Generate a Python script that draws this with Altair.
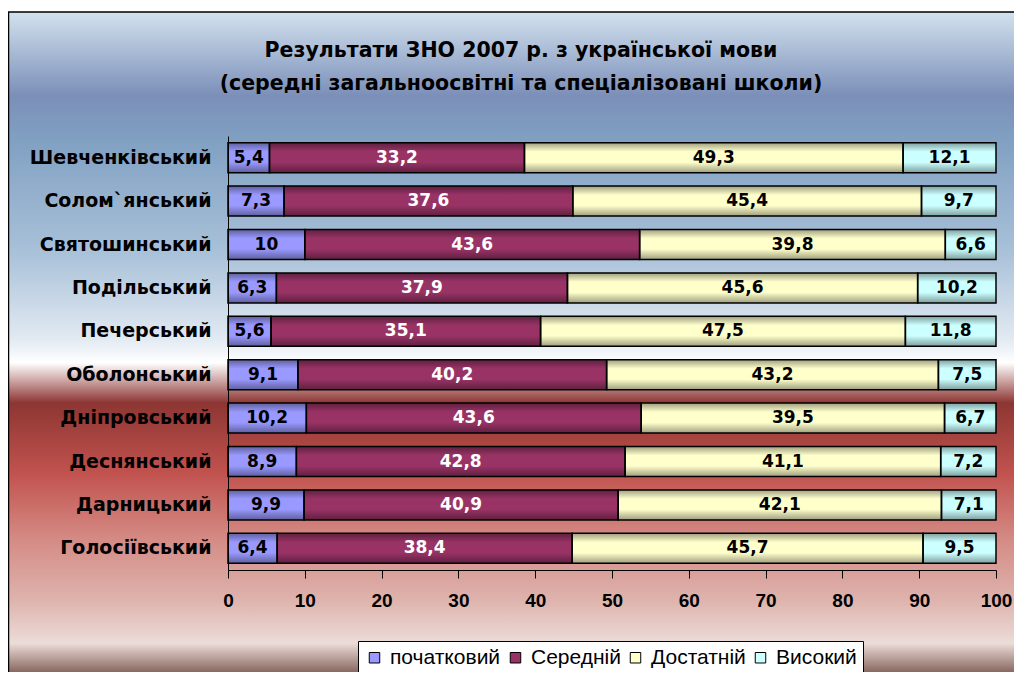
import altair as alt
import pandas as pd

districts = ["Шевченківський", "Солом`янський", "Святошинський", "Подільський",
             "Печерський", "Оболонський", "Дніпровський", "Деснянський",
             "Дарницький", "Голосіївський"]
levels = ["початковий", "Середній", "Достатній", "Високий"]
level_colors = ["#9999ff", "#993366", "#ffffcc", "#ccffff"]

pochatkovyi = [5.4, 7.3, 10.0, 6.3, 5.6, 9.1, 10.2, 8.9, 9.9, 6.4]
serednii = [33.2, 37.6, 43.6, 37.9, 35.1, 40.2, 43.6, 42.8, 40.9, 38.4]
dostatnii = [49.3, 45.4, 39.8, 45.6, 47.5, 43.2, 39.5, 41.1, 42.1, 45.7]
vysokyi = [12.1, 9.7, 6.6, 10.2, 11.8, 7.5, 6.7, 7.2, 7.1, 9.5]

x_ticks = [0, 10, 20, 30, 40, 50, 60, 70, 80, 90, 100]

series = [pochatkovyi, serednii, dostatnii, vysokyi]
rows = []
for li, (lev, vals) in enumerate(zip(levels, series)):
    for d, v in zip(districts, vals):
        rows.append({"district": d, "level": lev, "order": li, "value": v})
df = pd.DataFrame(rows)

FONT = "Liberation Sans"
WIDE = "DejaVu Sans"

bg_gradient = alt.Gradient(
    gradient="linear", x1=0, y1=0, x2=0, y2=1,
    stops=[
        alt.GradientStop(offset=0.0, color="#d3e2ee"),
        alt.GradientStop(offset=0.125, color="#7b8fb9"),
        alt.GradientStop(offset=0.19, color="#80a0c2"),
        alt.GradientStop(offset=0.36, color="#a9c1d9"),
        alt.GradientStop(offset=0.49, color="#e2eaf2"),
        alt.GradientStop(offset=0.525, color="#ffffff"),
        alt.GradientStop(offset=0.585, color="#8d3633"),
        alt.GradientStop(offset=0.69, color="#c1524e"),
        alt.GradientStop(offset=0.79, color="#d58b85"),
        alt.GradientStop(offset=0.88, color="#deb3ad"),
        alt.GradientStop(offset=0.945, color="#ecdcd8"),
        alt.GradientStop(offset=1.0, color="#6e4840"),
    ],
)

background = alt.Chart(alt.Data(values=[{"k": 1}])).mark_rect(
    fill=bg_gradient, stroke="black", strokeWidth=1.5
).encode(
    x=alt.value(-219.5), x2=alt.value(800),
    y=alt.value(-124), y2=alt.value(544),
)

shade = alt.Gradient(
    gradient="linear", x1=0, y1=0, x2=0, y2=1,
    stops=[
        alt.GradientStop(offset=0.0, color="rgba(0,0,0,0.38)"),
        alt.GradientStop(offset=0.3, color="rgba(0,0,0,0)"),
        alt.GradientStop(offset=0.65, color="rgba(0,0,0,0)"),
        alt.GradientStop(offset=1.0, color="rgba(0,0,0,0.38)"),
    ],
)

base = alt.Chart(df).transform_stack(
    stack="value", groupby=["district"], as_=["x0", "x1"],
    sort=[alt.SortField("order", order="ascending")],
).transform_calculate(
    mid="(datum.x0 + datum.x1) / 2",
    label="replace(format(datum.value, '.1~f'), '.', ',')",
)

y_enc = alt.Y(
    "district:N", sort=districts, title=None,
    scale=alt.Scale(paddingInner=0.308, paddingOuter=0.154),
    axis=alt.Axis(ticks=False, domainColor="black", domainWidth=1, labelFont=WIDE,
                  labelFontSize=19, labelFontWeight="bold", labelColor="black",
                  labelPadding=17, labelLimit=260, zindex=1),
)
x_scale = alt.Scale(domain=[0, 100], nice=False)

bars = base.mark_bar(strokeWidth=0).encode(
    x=alt.X("x0:Q", scale=x_scale, title=None,
            axis=alt.Axis(values=x_ticks, grid=False, domainColor="black", tickColor="black",
                          tickSize=8, labelFont=FONT, labelFontSize=19, labelFlush=False,
                          labelFontWeight="bold", labelColor="black", labelPadding=13,
                          zindex=1)),
    x2="x1:Q",
    y=y_enc,
    color=alt.Color("level:N", sort=levels,
                    scale=alt.Scale(domain=levels, range=level_colors),
                    legend=alt.Legend(title=None, orient="none", legendX=130, legendY=505,
                                      direction="horizontal", fillColor="white",
                                      strokeColor="black", padding=6, symbolType="square",
                                      symbolSize=110, symbolStrokeColor="black",
                                      symbolStrokeWidth=1, labelFont=FONT, labelFontSize=21,
                                      labelColor="black", columnPadding=4, labelOffset=5,
                                      cornerRadius=0)),
)

overlay = base.mark_bar(fill=shade, stroke="black", strokeWidth=1.5).encode(
    x=alt.X("x0:Q", scale=x_scale),
    x2="x1:Q",
    y=alt.Y("district:N", sort=districts),
)

labels = base.mark_text(font=WIDE, fontSize=17, fontWeight="bold", baseline="middle",
                        align="center").encode(
    x=alt.X("mid:Q", scale=x_scale),
    y=alt.Y("district:N", sort=districts),
    text="label:N",
    color=alt.when(alt.datum.level == "Середній").then(alt.value("white")).otherwise(alt.value("black")),
)

chart = alt.layer(background, bars, overlay, labels).properties(
    width=768, height=434,
    autosize=alt.AutoSizeParams(type="none"),
    padding={"left": 220, "top": 128, "right": 18, "bottom": 102},
    background="white",
    title=alt.TitleParams(
        text=["Результати ЗНО 2007 р. з української мови",
              "(середні загальноосвітні та спеціалізовані школи)"],
        font=WIDE, fontSize=20.5, fontWeight="bold", color="black",
        anchor="middle", frame="group", dx=-91, offset=-83, lineHeight=33,
    ),
).configure_view(strokeWidth=0)

chart.save("out.html", embed_options={"renderer": "svg", "actions": False})
